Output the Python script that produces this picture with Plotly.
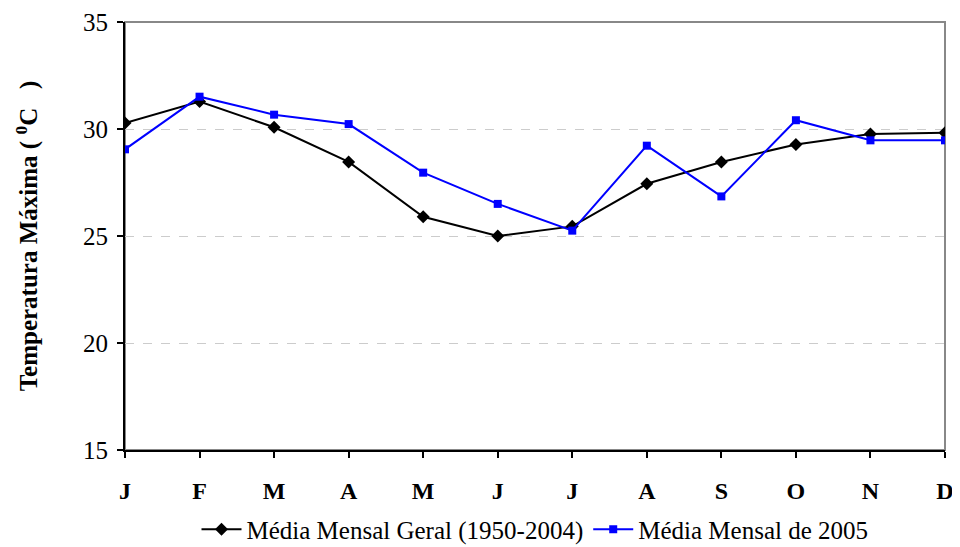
import plotly.graph_objects as go

months = ["J", "F", "M", "A", "M", "J", "J", "A", "S", "O", "N", "D"]
media_geral = [30.28, 31.28, 30.08, 28.46, 25.9, 25.0, 25.45, 27.44, 28.46, 29.28, 29.77, 29.83]
media_2005 = [29.05, 31.51, 30.67, 30.23, 27.96, 26.5, 25.25, 29.22, 26.85, 30.41, 29.47, 29.47]
y_ticks = [15, 20, 25, 30, 35]

x_idx = list(range(len(months)))
font_family = "Liberation Serif"

fig = go.Figure()
fig.add_trace(go.Scatter(
    x=x_idx, y=media_geral, mode="lines+markers",
    name="Média Mensal Geral (1950-2004)",
    line=dict(color="black", width=2),
    marker=dict(symbol="diamond", size=10, color="black"),
))
fig.add_trace(go.Scatter(
    x=x_idx, y=media_2005, mode="lines+markers",
    name="Média Mensal de 2005",
    line=dict(color="#0000ff", width=2),
    marker=dict(symbol="square", size=8, color="#0000ff"),
))

# gray frame on top/right
fig.add_shape(type="rect", xref="paper", yref="paper", x0=0, y0=0, x1=1, y1=1,
              line=dict(color="#888888", width=2), layer="below")

fig.update_layout(
    width=952, height=539,
    margin=dict(l=117, r=15, t=14, b=97, autoexpand=False),
    paper_bgcolor="white", plot_bgcolor="white",
    font=dict(family=font_family, color="black", size=20),
    showlegend=True,
    legend=dict(orientation="h", x=0.5, xanchor="center", y=-0.132, yanchor="top",
                font=dict(size=25, family=font_family, color="black"),
                tracegroupgap=0, itemwidth=40),
    xaxis=dict(
        range=[0, len(months) - 1], tickmode="array", tickvals=x_idx,
        ticktext=["<b>%s</b>" % m for m in months],
        showline=True, linecolor="black", linewidth=2,
        ticks="outside", ticklen=6, tickcolor="black", tickwidth=1.5,
        showgrid=False, zeroline=False, ticklabelstandoff=12,
        tickfont=dict(size=24, family=font_family), automargin=False,
    ),
    yaxis=dict(
        range=[15, 35], tickmode="array", tickvals=y_ticks,
        showline=True, linecolor="black", linewidth=2,
        ticks="outside", ticklen=6, tickcolor="black", tickwidth=1.5,
        showgrid=True, gridcolor="#cccccc", griddash="dash", gridwidth=1,
        zeroline=False, ticklabelstandoff=4, automargin=False,
        tickfont=dict(size=25, family=font_family),
        title=dict(text="<b>Temperatura Máxima ( <sup>0</sup>C   )</b>",
                   font=dict(size=25, family=font_family), standoff=38),
    ),
)

fig.write_html("out.html")
